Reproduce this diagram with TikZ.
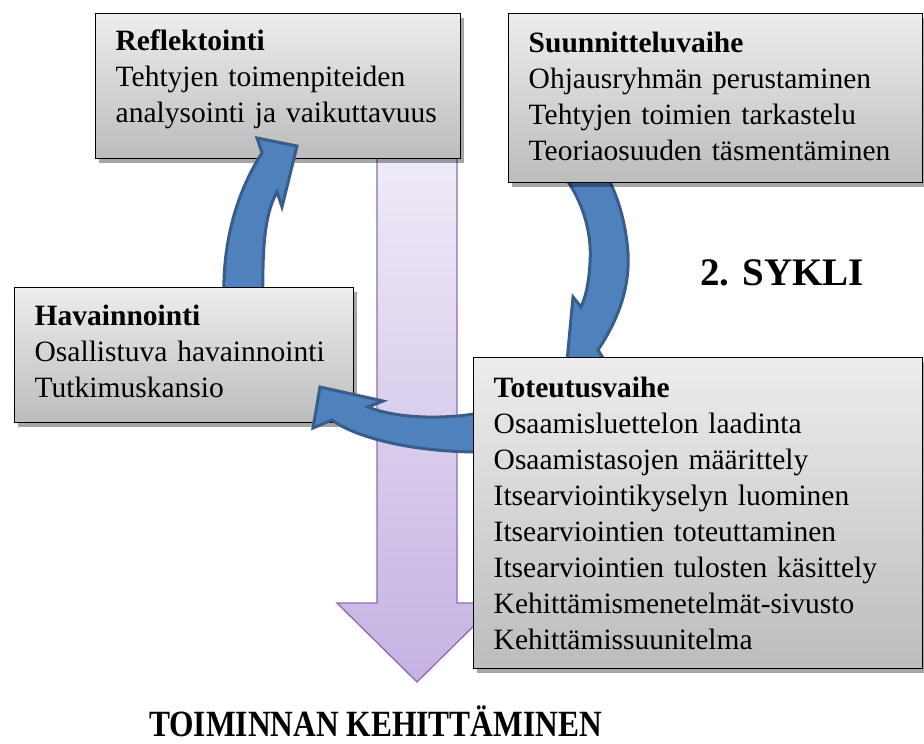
\documentclass[tikz,border=0pt]{standalone}
\usepackage{fontspec}
\usepackage{graphicx}
\setmainfont{Liberation Serif}
\usepackage{tikz}
\usetikzlibrary{calc,positioning,shapes,shadows}
\definecolor{boxtop}{RGB}{237,237,237}
\definecolor{boxbottom}{RGB}{188,188,188}
\definecolor{lilatop}{RGB}{240,235,248}
\definecolor{lilabottom}{RGB}{197,178,226}
\definecolor{lilaedge}{RGB}{137,110,180}
\definecolor{sininen}{RGB}{79,129,189}
\definecolor{sinireuna}{RGB}{56,93,138}

\begin{document}
\begin{tikzpicture}[x=1pt,y=-1pt]
    \tikzstyle{vaihe}=[draw=black,line width=1.4pt,rectangle,anchor=north west,
                       inner xsep=20pt,inner ysep=0pt,align=left,
                       top color=boxtop,bottom color=boxbottom,
                       font=\fontsize{29.5}{36}\selectfont,
                       drop shadow={shadow xshift=3pt,shadow yshift=-4pt,
                                    fill=black,opacity=0.35}]
    \tikzstyle{kaari}=[fill=sininen,draw=sinireuna,line width=3pt]

    \useasboundingbox (0,0) rectangle (924,744);

    % iso violetti nuoli alas
    \path [top color=lilatop,bottom color=lilabottom,draw=lilaedge,line width=1.3pt]
        (377,150) -- (457,150) -- (457,603) -- (497,603)
        -- (417,682) -- (337,603) -- (377,603) -- cycle;

    % suunnittelu -> toteutus
    \path [kaari] (567,180) .. controls (584,205) and (592,235) .. (590,262)
        .. controls (589,282) and (586,296) .. (581,307) -- (573,297)
        -- (566,372) -- (612,372) -- (598,350)
        .. controls (618,320) and (630,288) .. (628,253)
        .. controls (626,225) and (619,200) .. (609,180) -- cycle;

    % the two upper boxes
    \node [vaihe,text width=374pt,text height=39pt,text depth=130pt] (suun) at (508,13)
        {\textbf{Suunnitteluvaihe}\\Ohjausryhmän perustaminen\\Tehtyjen toimien tarkastelu\\Teoriaosuuden täsmentäminen};
    \node [vaihe,text width=325pt,text height=37pt,text depth=108pt] (refl) at (95,13)
        {\textbf{Reflektointi}\\Tehtyjen toimenpiteiden\\\mbox{analysointi ja vaikuttavuus}};

    % havainnointi -> reflektointi
    \path [kaari] (224,300) .. controls (222,240) and (238,190) .. (262,153)
        -- (257,138) -- (297,146) -- (282,207) -- (277,192)
        .. controls (266,212) and (262,240) .. (263,300) -- cycle;

    \node [vaihe,text width=299pt,text height=38pt,text depth=97pt] (hav) at (14,287)
        {\textbf{Havainnointi}\\Osallistuva havainnointi\\Tutkimuskansio};

    % toteutus -> havainnointi
    \path [kaari] (480,413) .. controls (440,420) and (395,418) .. (368,407)
        -- (383,401) -- (320,387) -- (313,428) -- (332,420)
        .. controls (355,437) and (410,452) .. (480,452) -- cycle;

    \node [vaihe,text width=409pt,text height=40pt,text depth=271pt] (tot) at (473,357)
        {\textbf{Toteutusvaihe}\\Osaamisluettelon laadinta\\Osaamistasojen määrittely\\Itsearviointikyselyn luominen\\Itsearviointien toteuttaminen\\Itsearviointien tulosten käsittely\\Kehittämismenetelmät-sivusto\\Kehittämissuunitelma};

    \node [anchor=base west,inner sep=0pt,font=\fontsize{39}{44}\selectfont\bfseries] (sykli) at (700,285) {2. SYKLI};
    \node [anchor=base,inner sep=0pt] (kehitys) at (375.5,736)
        {\scalebox{0.85}[1]{\fontsize{37}{40}\selectfont\bfseries TOIMINNAN KEHITTÄMINEN}};
\end{tikzpicture}
\end{document}
